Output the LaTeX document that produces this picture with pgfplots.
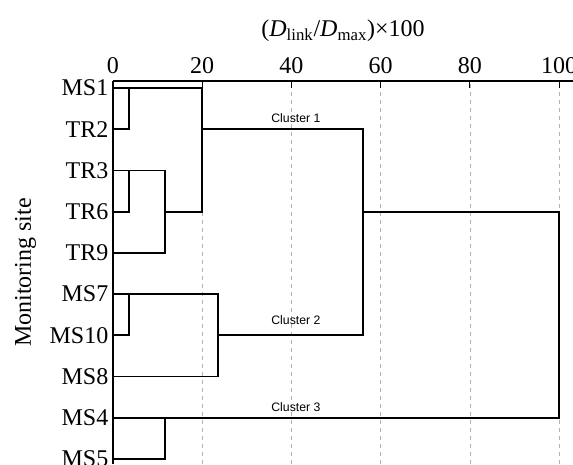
\documentclass[border=0pt]{standalone}
\usepackage{fontspec}
\setmainfont{Liberation Serif}
\newfontfamily\arialfont{Liberation Sans}
\usepackage{pgfplots}
\pgfplotsset{compat=1.18}
\tikzset{dend/.style={draw=black, line width=1.3pt, line join=miter, mark=none}}
\begin{document}
\begin{tikzpicture}
\path[use as bounding box] (-84.75pt,0pt) rectangle (345pt,348pt);
\clip (-84.75pt,0pt) rectangle (345pt,348pt);
\begin{axis}[
  at={(0pt,0pt)}, anchor=south west,
  scale only axis, width=345pt, height=287.25pt,
  xmin=0, xmax=103.1, ymin=0.879, ymax=10.17,
  axis x line*=top, axis y line*=left,
  axis line style={line width=1.1pt, black},
  xtick={0,20,40,60,80,100},
  ytick={1,...,10},
  yticklabels={MS5,MS4,MS8,MS10,MS7,TR9,TR6,TR3,TR2,MS1},
  tick align=inside,
  major tick length=5pt,
  tick style={black, line width=0.8pt},
  ytick style={draw=none},
  xmajorgrids,
  grid style={dashed, gray!60, line width=0.5pt},
  /pgf/number format/assume math mode=true,
  tick label style={font=\fontsize{18}{20}\selectfont},
  xticklabel style={anchor=base, yshift=5.25pt},
  xlabel={(\textit{D}\textsubscript{link}/\textit{D}\textsubscript{max})×100},
  xlabel style={font=\fontsize{18}{20}\selectfont, at={(axis description cs:0.5,1.115)}, anchor=base},
  ylabel={Monitoring site},
  ylabel style={font=\fontsize{18}{20}\selectfont, at={(axis description cs:-0.1783,0.5)}, anchor=base},
]
\addplot[dend] coordinates {(0,10) (20,10) (20,7) (11.6,7)};
\addplot[dend] coordinates {(0,9) (3.6,9) (3.6,10)};
\addplot[dend] coordinates {(20,9) (56,9) (56,4) (23.6,4)};
\addplot[dend] coordinates {(0,8) (11.6,8) (11.6,6) (0,6)};
\addplot[dend] coordinates {(0,7) (3.6,7) (3.6,8)};
\addplot[dend] coordinates {(0,5) (23.6,5) (23.6,3) (0,3)};
\addplot[dend] coordinates {(0,4) (3.6,4) (3.6,5)};
\addplot[dend] coordinates {(56,7) (100,7) (100,2) (0,2)};
\addplot[dend] coordinates {(0,1) (11.6,1) (11.6,2)};
\node[font=\arialfont\fontsize{9.2}{10}\selectfont] at (axis cs:41,9.27) {Cluster 1};
\node[font=\arialfont\fontsize{9.2}{10}\selectfont] at (axis cs:41,4.36) {Cluster 2};
\node[font=\arialfont\fontsize{9.2}{10}\selectfont] at (axis cs:41,2.25) {Cluster 3};
\end{axis}
\end{tikzpicture}
\end{document}
